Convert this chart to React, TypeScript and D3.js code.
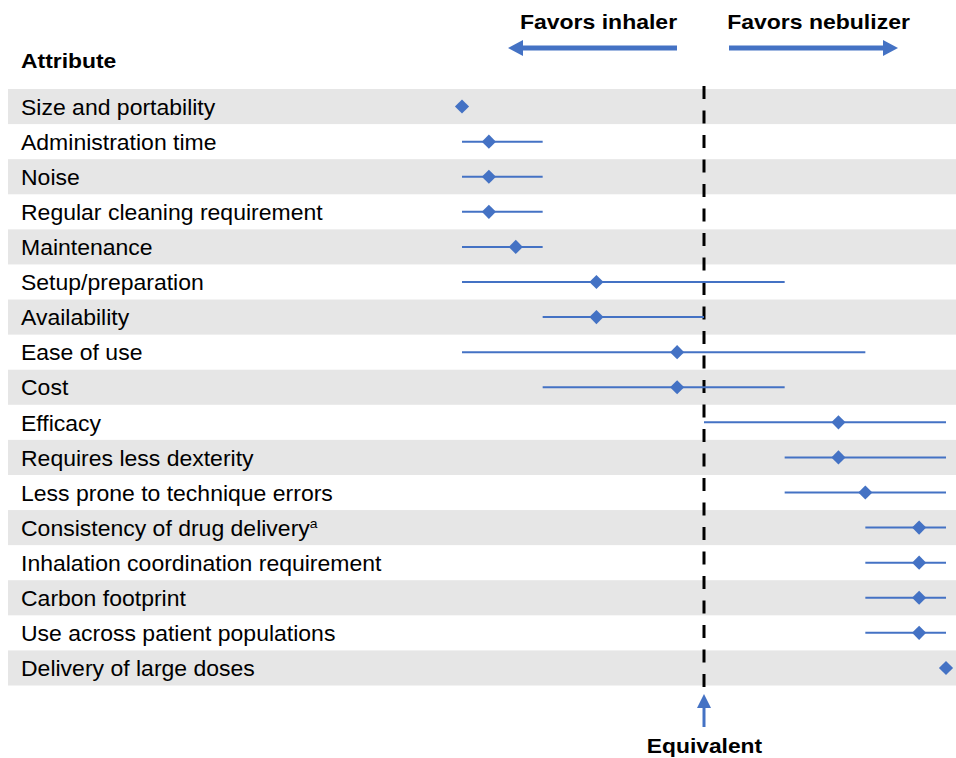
import React from "react";
import * as d3 from "d3";

const attributes = [
  "Size and portability",
  "Administration time",
  "Noise",
  "Regular cleaning requirement",
  "Maintenance",
  "Setup/preparation",
  "Availability",
  "Ease of use",
  "Cost",
  "Efficacy",
  "Requires less dexterity",
  "Less prone to technique errors",
  "Consistency of drug delivery",
  "Inhalation coordination requirement",
  "Carbon footprint",
  "Use across patient populations",
  "Delivery of large doses",
];
const superscripts = ["", "", "", "", "", "", "", "", "", "", "", "", "a", "", "", "", ""];
const medians = [-9, -8, -8, -8, -7, -4, -4, -1, -1, 5, 5, 6, 8, 8, 8, 8, 9];
const lows = [-9, -9, -9, -9, -9, -9, -6, -9, -6, 0, 3, 3, 6, 6, 6, 6, 9];
const highs = [-9, -6, -6, -6, -6, 3, 0, 6, 3, 9, 9, 9, 9, 9, 9, 9, 9];

const BLUE = "#4472C4";
const GRAY = "#E6E6E6";
const FONT = "'Liberation Sans', Arial, sans-serif";

function SText(props: {
  x: number;
  y: number;
  sx: number;
  size: number;
  bold?: boolean;
  anchor?: string;
  children: React.ReactNode;
}) {
  return (
    <g transform={`translate(${props.x},${props.y}) scale(${props.sx},1)`}>
      <text
        x={0}
        y={0}
        fontSize={props.size}
        fontWeight={props.bold ? "bold" : "normal"}
        textAnchor={props.anchor || "start"}
        fill="#000"
      >
        {props.children}
      </text>
    </g>
  );
}

export default function App() {
  const W = 956;
  const H = 758;
  const x = d3.scaleLinear().domain([-9, 9]).range([462, 946]);
  const y = d3.scaleBand().domain(attributes).range([89, 685.5]).padding(0);
  const bw = y.bandwidth();
  const diamond = d3.symbol(d3.symbolSquare, 100)() as string;
  const x0 = x(0);

  return (
    <div style={{ position: "absolute", left: 0, top: 0 }}>
      <svg width={W} height={H} style={{ display: "block", background: "#fff" }} fontFamily={FONT}>
        {attributes.map((a, i) =>
          i % 2 === 0 ? (
            <rect key={a} x={8} y={y(a)} width={W - 8} height={bw} fill={GRAY} />
          ) : null
        )}
        {/* header */}
        <SText x={21} y={68} sx={1.145} size={20} bold>Attribute</SText>
        <SText x={598.5} y={29.3} sx={1.15} size={20} bold anchor="middle">Favors inhaler</SText>
        <SText x={818.5} y={29.3} sx={1.15} size={20} bold anchor="middle">Favors nebulizer</SText>
        <line x1={677} x2={520} y1={48} y2={48} stroke={BLUE} strokeWidth={5} />
        <path d={`M508,48 L523,40 L523,56 Z`} fill={BLUE} />
        <line x1={729} x2={886} y1={48} y2={48} stroke={BLUE} strokeWidth={5} />
        <path d={`M898,48 L883,40 L883,56 Z`} fill={BLUE} />

        {/* labels */}
        {attributes.map((a, i) => (
          <SText key={a} x={21} y={(y(a) as number) + bw / 2 + 8.2} sx={1.075} size={21.4}>
            {a}
            {superscripts[i] ? (
              <tspan fontSize={13} dy={-8}>{superscripts[i]}</tspan>
            ) : null}
          </SText>
        ))}

        {/* equivalent line */}
        <line x1={x0} x2={x0} y1={86} y2={688} stroke="#000" strokeWidth={3} strokeDasharray="13 11.5" />

        {/* whiskers and points */}
        {attributes.map((a, i) => {
          const cy = (y(a) as number) + bw / 2;
          return (
            <g key={a}>
              {lows[i] !== highs[i] ? (
                <line x1={x(lows[i])} x2={x(highs[i])} y1={cy} y2={cy} stroke={BLUE} strokeWidth={2} />
              ) : null}
              <path d={diamond} transform={`translate(${x(medians[i])},${cy}) rotate(45)`} fill={BLUE} />
            </g>
          );
        })}

        {/* bottom arrow */}
        <line x1={x0} x2={x0} y1={727} y2={706} stroke={BLUE} strokeWidth={3} />
        <path d={`M${x0},694 L${x0 - 7},708 L${x0 + 7},708 Z`} fill={BLUE} />
        <SText x={x0 + 0.5} y={753} sx={1.14} size={20} bold anchor="middle">Equivalent</SText>
      </svg>
    </div>
  );
}
